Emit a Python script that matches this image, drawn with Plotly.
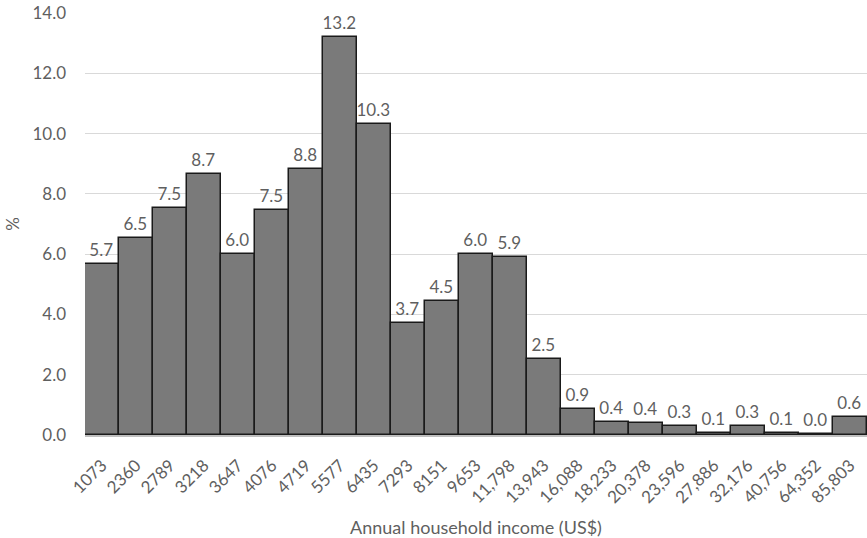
import plotly.graph_objects as go

categories = ["1073", "2360", "2789", "3218", "3647", "4076", "4719", "5577", "6435",
              "7293", "8151", "9653", "11,798", "13,943", "16,088", "18,233", "20,378",
              "23,596", "27,886", "32,176", "40,756", "64,352", "85,803"]
values = [5.66, 6.54, 7.53, 8.66, 5.99, 7.47, 8.81, 13.22, 10.32,
          3.70, 4.46, 6.00, 5.91, 2.52, 0.87, 0.42, 0.39,
          0.30, 0.08, 0.30, 0.06, 0.02, 0.61]
labels = [f"{v:.1f}" for v in values]

font_family = "Lato, 'Open Sans', sans-serif"
text_color = "#5f5f5f"

fig = go.Figure(go.Bar(
    x=categories,
    y=values,
    text=labels,
    textposition="outside",
    cliponaxis=False,
    textfont=dict(family=font_family, size=17, color=text_color),
    marker=dict(color="#7a7a7a", line=dict(color="#1a1a1a", width=1.5)),
))

fig.update_layout(
    width=867, height=538,
    margin=dict(l=85, r=0, t=13, b=103),
    plot_bgcolor="white", paper_bgcolor="white",
    bargap=0,
    showlegend=False,
    font=dict(family=font_family, color=text_color),
)
fig.update_xaxes(
    type="category",
    tickangle=-45,
    tickfont=dict(size=17, color=text_color),
    ticklabelstandoff=12,
    showline=True, linecolor="#bfbfbf", linewidth=1.5,
    ticks="",
    automargin=False,
    title=dict(text="Annual household income (US$)", font=dict(size=18, color=text_color), standoff=18),
)
fig.update_yaxes(
    range=[0, 14], dtick=2, tickformat=".1f",
    tickfont=dict(size=17, color=text_color),
    ticklabelstandoff=18,
    gridcolor="#d9d9d9", gridwidth=1,
    zeroline=False,
    ticks="", ticklen=0,
    automargin=False,
    title=dict(text="%", font=dict(size=17, color=text_color), standoff=8),
)

fig.write_html("out.html")
